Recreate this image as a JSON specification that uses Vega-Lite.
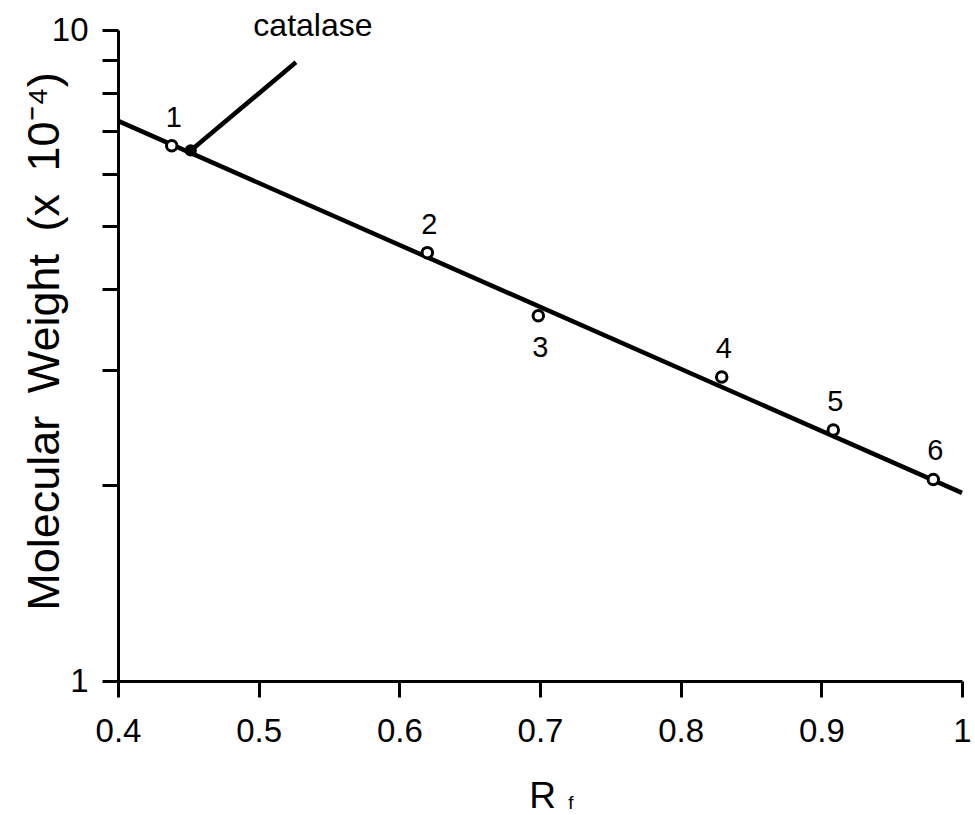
{
  "$schema": "https://vega.github.io/schema/vega-lite/v6.json",
  "width": 844,
  "height": 651,
  "autosize": {"type": "none"},
  "padding": {"left": 118, "top": 30, "right": 13, "bottom": 134},
  "background": "white",
  "config": {
    "view": {"stroke": null},
    "font": "Liberation Sans",
    "axis": {
      "grid": false,
      "domainColor": "black",
      "domainWidth": 3,
      "tickColor": "black",
      "tickWidth": 3,
      "tickSize": 16,
      "labelColor": "black",
      "labelFont": "Liberation Sans",
      "labelFontSize": 33,
      "titleColor": "black",
      "titleFont": "Liberation Sans",
      "titleFontWeight": "normal"
    }
  },
  "datasets": {
    "standards": [
      {"rf": 0.4382, "mw": 6.64, "label": "1", "side": "above"},
      {"rf": 0.6199, "mw": 4.55, "label": "2", "side": "above"},
      {"rf": 0.6988, "mw": 3.64, "label": "3", "side": "below"},
      {"rf": 0.8292, "mw": 2.93, "label": "4", "side": "above"},
      {"rf": 0.9085, "mw": 2.43, "label": "5", "side": "above"},
      {"rf": 0.9796, "mw": 2.04, "label": "6", "side": "above"}
    ],
    "catalase": [{"rf": 0.4517, "mw": 6.53}],
    "fit": [{"rf": 0.4, "mw": 7.25}, {"rf": 1.0, "mw": 1.945}],
    "pointer": [{"rf": 0.4517, "mw": 6.53}, {"rf": 0.5265, "mw": 8.92}],
    "callout": [{"rf": 0.5386, "mw": 9.79, "text": "catalase"}],
    "subscript": [{"rf": 0.722, "mw": 0.635, "text": "f"}]
  },
  "encoding": {
    "x": {
      "field": "rf",
      "type": "quantitative",
      "scale": {"domain": [0.4, 1], "nice": false, "zero": false},
      "axis": {
        "title": "R",
        "values": [0.4, 0.5, 0.6, 0.7, 0.8, 0.9, 1],
        "labelExpr": "format(datum.value, '~g')",
        "labelPadding": 18,
        "labelFlush": false,
        "labelOverlap": false,
        "titleFontSize": 37,
        "titleAnchor": "start",
        "titleAlign": "center",
        "titleBaseline": "alphabetic",
        "titleX": 424,
        "titleY": 126
      }
    },
    "y": {
      "field": "mw",
      "type": "quantitative",
      "scale": {"type": "log", "domain": [1, 10], "nice": false},
      "axis": {
        "title": "Molecular\u2002Weight\u2002(x\u200210⁻⁴)",
        "values": [1, 2, 3, 4, 5, 6, 7, 8, 9, 10],
        "labelExpr": "datum.value == 1 || datum.value == 10 ? format(datum.value, 'd') : ''",
        "labelPadding": 14,
        "labelOverlap": false,
        "labelFlush": false,
        "titleFontSize": 45,
        "titleAngle": -90,
        "titleAlign": "center",
        "titleBaseline": "alphabetic",
        "titleX": -60,
        "titleY": 311
      }
    }
  },
  "layer": [
    {
      "data": {"name": "fit"},
      "mark": {"type": "line", "color": "black", "strokeWidth": 4.5, "clip": false},
      "encoding": {}
    },
    {
      "data": {"name": "pointer"},
      "mark": {"type": "line", "color": "black", "strokeWidth": 4.5, "clip": false},
      "encoding": {}
    },
    {
      "data": {"name": "standards"},
      "mark": {"type": "point", "shape": "circle", "filled": false, "size": 110, "stroke": "black", "strokeWidth": 3, "fill": "white", "fillOpacity": 1, "opacity": 1}
    },
    {
      "data": {"name": "catalase"},
      "mark": {"type": "point", "shape": "circle", "filled": true, "size": 150, "color": "black", "opacity": 1}
    },
    {
      "data": {"name": "standards"},
      "transform": [{"filter": "datum.side == 'above'"}],
      "mark": {"type": "text", "fontSize": 29, "font": "Liberation Sans", "color": "black", "baseline": "alphabetic", "align": "center", "dx": 2, "dy": -19},
      "encoding": {"text": {"field": "label"}}
    },
    {
      "data": {"name": "standards"},
      "transform": [{"filter": "datum.side == 'below'"}],
      "mark": {"type": "text", "fontSize": 29, "font": "Liberation Sans", "color": "black", "baseline": "alphabetic", "align": "center", "dx": 2, "dy": 41},
      "encoding": {"text": {"field": "label"}}
    },
    {
      "data": {"name": "callout"},
      "mark": {"type": "text", "fontSize": 32, "font": "Liberation Sans", "color": "black", "baseline": "alphabetic", "align": "center", "clip": false},
      "encoding": {"text": {"field": "text"}}
    },
    {
      "data": {"name": "subscript"},
      "mark": {"type": "text", "fontSize": 19, "font": "Liberation Sans", "color": "black", "baseline": "alphabetic", "align": "center", "clip": false},
      "encoding": {"text": {"field": "text"}}
    }
  ]
}
